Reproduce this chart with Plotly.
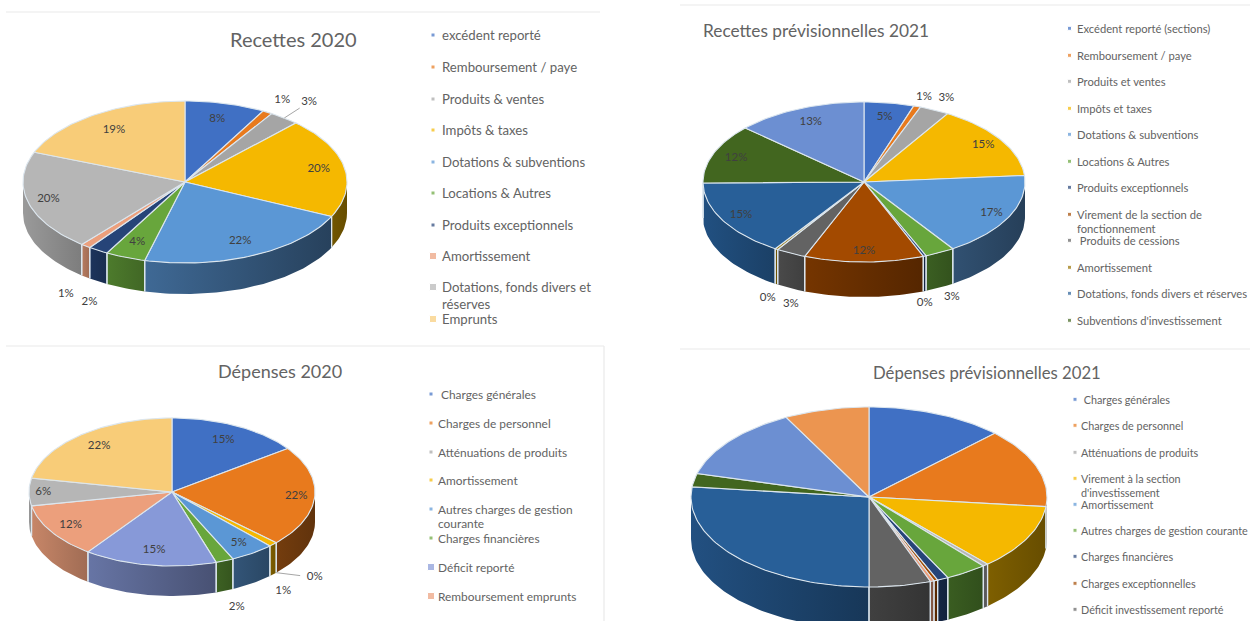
import math
import plotly.graph_objects as go

# ---------- colours ----------
BLUE = "#4070C4"; ORANGE = "#E87A1D"; GRAY = "#A5A5A5"; YELLOW = "#F5B800"; LBLUE = "#5B97D5"
GREEN = "#68A63C"; NAVY = "#264478"; BROWN = "#A34A00"; DGRAY = "#636363"; DBLUE = "#285F98"
DGREEN = "#42661F"; PBLUE = "#6C8FD2"; PORANGE = "#EC9550"; SALMON = "#EC9F7C"; LGRAY = "#B6B6B6"
PYELLOW = "#F8CC78"; PERI = "#8799D8"; AMBER = "#997300"

# ---------- data ----------
rec20_values = [8, 1, 3, 20, 22, 4, 2, 1, 20, 19]
rec20_labels = ["8%", "1%", "3%", "20%", "22%", "4%", "2%", "1%", "20%", "19%"]
rec20_colors = [BLUE, ORANGE, GRAY, YELLOW, LBLUE, GREEN, NAVY, SALMON, LGRAY, PYELLOW]
rec20_legend = ["excédent reporté", "Remboursement / paye", "Produits & ventes", "Impôts & taxes",
                "Dotations & subventions", "Locations & Autres", "Produits exceptionnels",
                "Amortissement", "Dotations, fonds divers et\nréserves", "Emprunts"]

rec21_values = [5, 0.7, 3, 15, 17, 3, 0.3, 12, 3, 0.3, 15.5, 12, 13.2]
rec21_labels = ["5%", "1%", "3%", "15%", "17%", "3%", "0%", "12%", "3%", "0%", "15%", "12%", "13%"]
rec21_colors = [BLUE, ORANGE, GRAY, YELLOW, LBLUE, GREEN, NAVY, BROWN, DGRAY, AMBER, DBLUE, DGREEN, PBLUE]
rec21_legend = ["Excédent reporté (sections)", "Remboursement / paye", "Produits et ventes", "Impôts et taxes",
                "Dotations & subventions", "Locations & Autres", "Produits exceptionnels",
                "Virement de la section de\nfonctionnement", " Produits de cessions", "Amortissement",
                "Dotations, fonds divers et réserves", "Subventions d'investissement"]

dep20_values = [15, 22, 0, 1, 5, 2, 15, 12, 6, 22]
dep20_labels = ["15%", "22%", "0%", "1%", "5%", "2%", "15%", "12%", "6%", "22%"]
dep20_colors = [BLUE, ORANGE, GRAY, YELLOW, LBLUE, GREEN, PERI, SALMON, LGRAY, PYELLOW]
dep20_legend = [" Charges générales", "Charges de personnel", "Atténuations de produits", "Amortissement",
                "Autres charges de gestion\ncourante", "Charges financières", "Déficit reporté",
                "Remboursement emprunts"]

dep21_values = [12.5, 14.2, 0, 11.7, 0.5, 3.8, 1, 0.35, 0.35, 5.6, 26.8, 2.4, 13.1, 7.7]
dep21_labels = [""] * 14
dep21_colors = [BLUE, ORANGE, GRAY, YELLOW, LGRAY, GREEN, NAVY, BROWN, SALMON, DGRAY, DBLUE, DGREEN, PBLUE, PORANGE]
dep21_legend = [" Charges générales", "Charges de personnel", "Atténuations de produits",
                "Virement à la section\nd'investissement", "Amortissement", "Autres charges de gestion courante",
                "Charges financières", "Charges exceptionnelles", "Déficit investissement reporté"]
dep21_legend_colors = [BLUE, ORANGE, GRAY, YELLOW, LBLUE, GREEN, NAVY, BROWN, DGRAY]

# ---------- layout ----------
TEXT = "#636363"
FONT = "Lato"
panels = [
    dict(title="Recettes 2020", tx=293, ty=39, ts=20, cx=185, cy=182, rx=162, ry=81, depth=31,
         values=rec20_values, labels=rec20_labels, colors=rec20_colors, legend=rec20_legend, lcolors=None,
         lr=[.8, 1.18, 1.25, .84, .8, .8, 1.1, 1.2, .87, .78],
         ldy=[0, 0, 0, 0, 0, 0, 45, 35, 0, 0], leader=[2],
         mx=433, lx=440, ls=13.2, gap=17,
         ly=[35, 67, 99, 130, 162, 193, 225, 256, 287, 319], msize=[4, 4, 4, 4, 4, 4, 4, 7, 7, 7]),
    dict(title="Recettes prévisionnelles 2021", tx=815.5, ty=30, ts=17.3, cx=864, cy=182, rx=161, ry=80, depth=35,
         values=rec21_values, labels=rec21_labels, colors=rec21_colors, legend=rec21_legend, lcolors=None,
         lr=[.82, 1.13, 1.17, .87, .88, 1.16, 1.0, .87, 1.0, 1.1, .87, .85, .82],
         ldy=[0, 0, 0, 0, 0, 33, 47, 0, 51, 42, 0, 0, 0], leader=[],
         mx=1069.5, lx=1075, ls=11.2, gap=14,
         ly=[28.3, 55.3, 81.3, 108.3, 134.3, 161.3, 187.3, 214.3, 240.3, 267.3, 293.3, 320.3], msize=[4] * 12),
    dict(title="Dépenses 2020", tx=280, ty=371, ts=18, cx=172, cy=492, rx=143, ry=74, depth=30,
         values=dep20_values, labels=dep20_labels, colors=dep20_colors, legend=dep20_legend, lcolors=None,
         lr=[.79, .87, 1.37, 1.1, .83, 1.23, .8, .84, .9, .8],
         ldy=[0, 0, 16, 42, 0, 30, 0, 0, 0, 0], leader=[2],
         mx=431, lx=436, ls=11.9, gap=14,
         ly=[394, 423, 452, 480, 509, 538, 567, 596], msize=[4, 4, 4, 4, 4, 4, 7, 7]),
    dict(title="Dépenses prévisionnelles 2021", tx=986.5, ty=373, ts=16.7, cx=869, cy=497, rx=178, ry=90, depth=42,
         values=dep21_values, labels=dep21_labels, colors=dep21_colors, legend=dep21_legend,
         lcolors=dep21_legend_colors,
         lr=[1] * 14, ldy=[0] * 14, leader=[],
         mx=1075, lx=1079, ls=10.8, gap=14,
         ly=[399.3, 425.3, 452.3, 478.3, 504.3, 530.3, 556.3, 583.3, 609.3], msize=[4] * 9),
]
frame_lines = [(6, 12, 600, 12), (680, 5, 1250, 5), (6, 346, 604, 346), (604, 346, 604, 621), (680, 349, 1250, 349)]


def shade(hex_color, f):
    r, g, b = [int(hex_color[i:i + 2], 16) for i in (1, 3, 5)]
    return f"rgb({int(r * f)},{int(g * f)},{int(b * f)})"


def pt(p, deg, r=1.0, dz=0.0):
    a = math.radians(deg)
    return p["cx"] + r * p["rx"] * math.sin(a), p["cy"] - r * p["ry"] * math.cos(a) + dz


def arc(a, b):
    n = max(2, int(abs(b - a) / 1.5) + 2)
    return [a + (b - a) * i / (n - 1) for i in range(n)]


fig = go.Figure()
EDGE = "#DCE6EE"

for p in panels:
    total = sum(p["values"])
    edges = [0.0]
    for v in p["values"]:
        edges.append(edges[-1] + v / total * 360)

    # side walls
    vx, vy = [], []
    for i, c in enumerate(p["colors"]):
        a, b = max(edges[i], 90), min(edges[i + 1], 270)
        if b - a <= 0:
            continue
        angles = arc(a, b)
        top = [pt(p, t) for t in angles]
        bot = [pt(p, t, dz=p["depth"]) for t in reversed(angles)]
        xs = [q[0] for q in top + bot] + [top[0][0]]
        ys = [q[1] for q in top + bot] + [top[0][1]]
        u0 = (min(xs) - p["cx"] + p["rx"]) / (2 * p["rx"])
        u1 = (max(xs) - p["cx"] + p["rx"]) / (2 * p["rx"])
        fig.add_trace(go.Scatter(x=xs, y=ys, mode="lines", line=dict(width=0), fill="toself",
                                 fillgradient=dict(type="horizontal",
                                                   colorscale=[[0, shade(c, .85 - .4 * u0)],
                                                               [1, shade(c, .75 - .33 * u1)]]),
                                 hoverinfo="skip", showlegend=False))
        for t in (a, b):
            if 90 < t < 270:
                q0, q1 = pt(p, t), pt(p, t, dz=p["depth"])
                vx += [q0[0], q1[0], None]
                vy += [q0[1], q1[1], None]
    fig.add_trace(go.Scatter(x=vx, y=vy, mode="lines", line=dict(color=EDGE, width=1.2),
                             hoverinfo="skip", showlegend=False))

    # top surface
    for i, c in enumerate(p["colors"]):
        if p["values"][i] <= 0:
            continue
        ring = [pt(p, t) for t in arc(edges[i], edges[i + 1])]
        xs = [p["cx"]] + [q[0] for q in ring] + [p["cx"]]
        ys = [p["cy"]] + [q[1] for q in ring] + [p["cy"]]
        fig.add_trace(go.Scatter(x=xs, y=ys, mode="lines", line=dict(color=EDGE, width=1.1),
                                 fill="toself", fillcolor=c, hoverinfo="skip", showlegend=False))

    # data labels
    lx, ly, lt = [], [], []
    for i, s in enumerate(p["labels"]):
        if not s:
            continue
        mid = (edges[i] + edges[i + 1]) / 2
        q = pt(p, mid, p["lr"][i], p["ldy"][i])
        lx.append(q[0]); ly.append(q[1]); lt.append(s)
        if i in p["leader"]:
            q0 = pt(p, mid, 1.0, p["depth"] if 90 < mid < 270 else 0)
            q1 = (q0[0] + (q[0] - q0[0]) * .62, q0[1] + (q[1] - q0[1]) * .62)
            fig.add_trace(go.Scatter(x=[q0[0], q1[0]], y=[q0[1], q1[1]], mode="lines",
                                     line=dict(color="#A6A6A6", width=1), hoverinfo="skip", showlegend=False))
    if lt:
        fig.add_trace(go.Scatter(x=lx, y=ly, text=lt, mode="text", textposition="middle center",
                                 textfont=dict(family=FONT, size=11.5, color="#404040"),
                                 hoverinfo="skip", showlegend=False))

    # title
    fig.add_annotation(x=p["tx"], y=p["ty"], text=p["title"], showarrow=False, xanchor="center", yanchor="middle",
                       font=dict(family=FONT, size=p["ts"], color=TEXT))

    # legend
    lcolors = p["lcolors"] or p["colors"]
    fig.add_trace(go.Scatter(x=[p["mx"]] * len(p["ly"]), y=p["ly"], mode="markers",
                             marker=dict(symbol="square", size=p["msize"], color=lcolors[:len(p["ly"])]),
                             hoverinfo="skip", showlegend=False))
    for name, y in zip(p["legend"], p["ly"]):
        for k, line in enumerate(name.split("\n")):
            fig.add_annotation(x=p["lx"], y=y + k * p["gap"], text=line, showarrow=False,
                               xanchor="left", yanchor="middle",
                               font=dict(family=FONT, size=p["ls"], color=TEXT))

for x0, y0, x1, y1 in frame_lines:
    fig.add_shape(type="line", x0=x0, y0=y0, x1=x1, y1=y1, line=dict(color="#E9E9E9", width=1.2), layer="below")

fig.update_layout(
    width=1250, height=621, autosize=False, margin=dict(l=0, r=0, t=0, b=0),
    paper_bgcolor="white", plot_bgcolor="white", showlegend=False,
    xaxis=dict(range=[0, 1250], visible=False, fixedrange=True),
    yaxis=dict(range=[621, 0], visible=False, fixedrange=True),
)
fig.write_html("out.html", post_script="document.body.style.margin='0';document.body.style.overflow='hidden';",
               config={"displayModeBar": False})
